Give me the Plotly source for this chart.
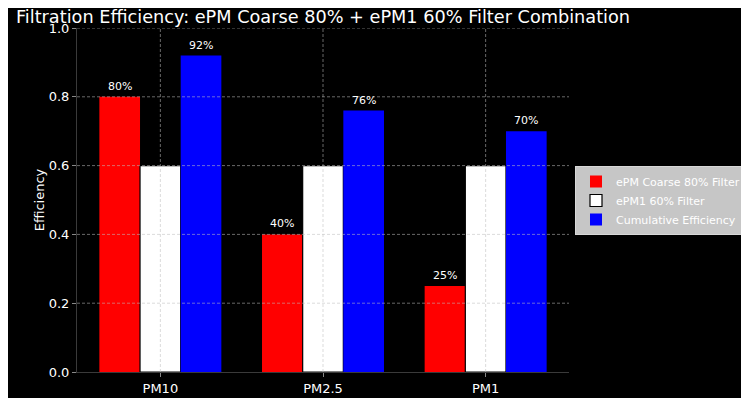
import numpy as np
import plotly.graph_objects as go

categories = ["PM10", "PM2.5", "PM1"]
coarse = [0.80, 0.40, 0.25]
epm1 = [0.60, 0.60, 0.60]
cumulative = [0.92, 0.76, 0.70]
series_names = ["ePM Coarse 80% Filter", "ePM1 60% Filter", "Cumulative Efficiency"]
yticks = [0.0, 0.2, 0.4, 0.6, 0.8, 1.0]
title = "Filtration Efficiency: ePM Coarse 80% + ePM1 60% Filter Combination"

FONT = "DejaVu Sans"
xpos = np.arange(len(categories))
W = 0.25
# page body has an 8px default margin; figure is sized to fill the rest of the window
FW, FH = 741, 390

fig = go.Figure()
fig.add_trace(go.Bar(x=xpos, y=coarse, name=series_names[0], marker=dict(color="#ff0000", line=dict(width=0))))
fig.add_trace(go.Bar(x=xpos, y=epm1, name=series_names[1], marker=dict(color="#ffffff", line=dict(color="#000000", width=1.2))))
fig.add_trace(go.Bar(x=xpos, y=cumulative, name=series_names[2], marker=dict(color="#0000ff", line=dict(width=0))))

annotations = []
for i in range(len(categories)):
    for off, vals in ((-W, coarse), (W, cumulative)):
        annotations.append(dict(x=xpos[i] + off, y=vals[i], text=f"{vals[i]*100:.0f}%",
                                showarrow=False, yanchor="bottom", yshift=2,
                                font=dict(family=FONT, size=11, color="#ffffff")))

shapes = []
grid = dict(color="rgba(190,190,190,0.55)", width=1, dash="3px,2px")
for yv in yticks[1:]:
    shapes.append(dict(type="line", xref="paper", x0=0, x1=1, yref="y", y0=yv, y1=yv, line=grid, layer="above"))
for xv in xpos:
    shapes.append(dict(type="line", xref="x", x0=xv, x1=xv, yref="paper", y0=0, y1=1, line=grid, layer="above"))

fig.update_layout(
    width=FW, height=FH,
    paper_bgcolor="#000000", plot_bgcolor="#000000",
    font=dict(family=FONT, color="#ffffff", size=13),
    margin=dict(l=69, r=180, t=20, b=26),
    barmode="group", bargap=0.25, bargroupgap=0,
    title=dict(text=title, x=0.5, xref="paper", y=1 - 8.5 / FH, yanchor="middle",
               font=dict(family=FONT, size=17.7, color="#ffffff"), automargin=False),
    showlegend=True,
    legend=dict(xref="container", yref="container", x=567 / FW, y=1 - 192.5 / FH, xanchor="left", yanchor="middle",
                bgcolor="#c6c6c6", bordercolor="#d8d8d8", borderwidth=1,
                font=dict(family=FONT, size=11, color="#ffffff"),
                itemwidth=30, tracegroupgap=0),
    annotations=annotations,
    shapes=shapes,
)
fig.update_xaxes(range=[-0.5125, 2.5125], tickvals=list(xpos), ticktext=categories, automargin=False,
                 showgrid=False, zeroline=False, showline=True, linecolor="#3a3a3a", linewidth=1,
                 ticks="outside", ticklen=4, tickcolor="#888888", tickfont=dict(size=13, color="#ffffff"))
fig.update_yaxes(range=[0, 1.0], tickvals=yticks, ticktext=[f"{v:.1f}" for v in yticks], automargin=False,
                 showgrid=False, zeroline=False, showline=True, linecolor="#3a3a3a", linewidth=1,
                 ticks="outside", ticklen=4, tickcolor="#888888", tickfont=dict(size=13, color="#ffffff"),
                 title=dict(text="Efficiency", font=dict(size=13, color="#ffffff"), standoff=1))

fig.write_html("out.html")
